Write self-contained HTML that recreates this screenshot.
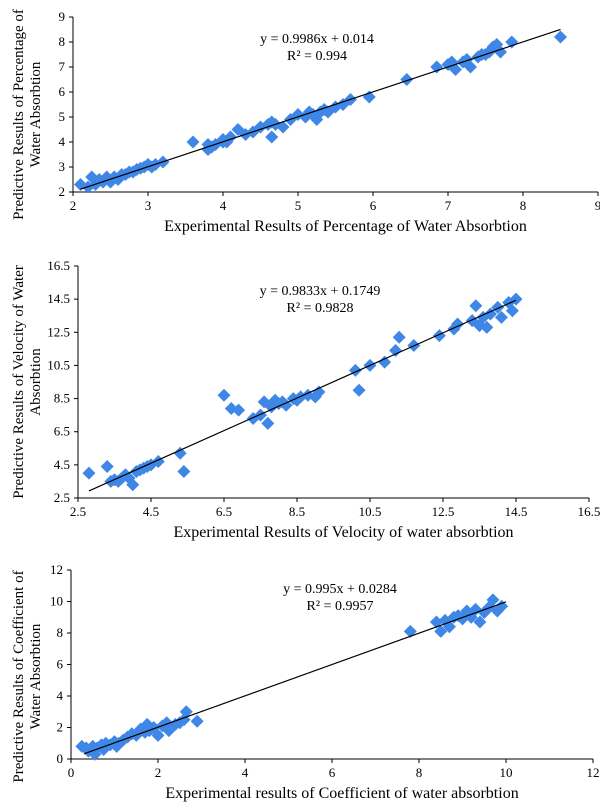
<!DOCTYPE html>
<html><head><meta charset="utf-8"><style>
body{margin:0;background:#fff;width:600px;height:802px;overflow:hidden}
svg{display:block;font-family:"Liberation Serif",serif}
</style></head><body>
<svg id="c" width="600" height="802" viewBox="0 0 600 802"></svg>
<script>
// Chart 1 data
const c1X=[2.1,2.2,2.25,2.3,2.35,2.4,2.45,2.5,2.55,2.6,2.65,2.7,2.75,2.8,2.85,2.9,2.95,3.0,3.05,3.1,3.2,3.6,3.8,3.8,3.85,3.9,4.0,4.0,4.05,4.1,4.2,4.3,4.4,4.5,4.6,4.65,4.65,4.7,4.8,4.9,5.0,5.1,5.15,5.2,5.25,5.3,5.35,5.4,5.5,5.6,5.7,5.95,6.45,6.85,7.0,7.05,7.1,7.2,7.25,7.3,7.4,7.45,7.5,7.55,7.6,7.65,7.7,7.85,8.5];
const c1Y=[2.3,2.2,2.6,2.3,2.5,2.4,2.6,2.4,2.6,2.5,2.7,2.7,2.8,2.8,2.9,2.95,3.0,3.1,3.0,3.1,3.2,4.0,3.7,3.9,3.8,3.9,4.0,4.1,4.0,4.2,4.5,4.3,4.4,4.6,4.7,4.2,4.8,4.7,4.6,4.9,5.1,5.0,5.2,5.1,4.9,5.2,5.3,5.2,5.4,5.5,5.7,5.8,6.5,7.0,7.1,7.2,6.9,7.2,7.3,7.0,7.4,7.5,7.5,7.6,7.8,7.9,7.6,8.0,8.2];
const c1Ticks=[2,3,4,5,6,7,8,9];
// Chart 2 data
const c2X=[2.8,3.3,3.4,3.5,3.6,3.7,3.8,3.9,4.0,4.1,4.2,4.3,4.4,4.5,4.7,5.3,5.4,6.5,6.7,6.9,7.3,7.5,7.6,7.7,7.8,7.9,8.0,8.1,8.2,8.4,8.5,8.6,8.8,9.0,9.1,10.1,10.2,10.5,10.9,11.2,11.3,11.7,12.4,12.8,12.9,13.3,13.4,13.5,13.6,13.7,13.8,14.0,14.1,14.3,14.4,14.5];
const c2Y=[4.0,4.4,3.5,3.6,3.5,3.7,3.9,3.7,3.3,4.1,4.2,4.3,4.4,4.5,4.7,5.2,4.1,8.7,7.9,7.8,7.3,7.5,8.3,7.0,8.0,8.4,8.2,8.3,8.1,8.5,8.4,8.6,8.7,8.6,8.9,10.2,9.0,10.5,10.7,11.4,12.2,11.7,12.3,12.7,13.0,13.2,14.1,12.9,13.4,12.8,13.6,14.0,13.4,14.3,13.8,14.5];
const c2Ticks=[2.5,4.5,6.5,8.5,10.5,12.5,14.5,16.5];
// Chart 3 data
const c3X=[0.25,0.35,0.4,0.5,0.55,0.6,0.7,0.75,0.8,0.9,1.0,1.05,1.1,1.2,1.3,1.4,1.5,1.6,1.7,1.75,1.8,1.9,2.0,2.1,2.2,2.25,2.4,2.5,2.6,2.65,2.9,7.8,8.4,8.5,8.6,8.7,8.8,8.9,9.0,9.1,9.2,9.3,9.4,9.5,9.6,9.7,9.8,9.9];
const c3Y=[0.8,0.7,0.5,0.8,0.3,0.7,0.9,0.6,1.0,0.9,1.1,0.8,1.0,1.2,1.4,1.6,1.5,1.9,1.7,2.2,1.8,2.0,1.5,2.1,2.3,1.8,2.2,2.3,2.5,3.0,2.4,8.1,8.7,8.1,8.8,8.4,9.0,9.1,8.9,9.4,9.0,9.5,8.7,9.3,9.6,10.1,9.4,9.7];
const c3Ticks=[0,2,4,6,8,10,12];

const NS="http://www.w3.org/2000/svg";
const svg=document.getElementById('c');
function mk(tag,attrs,parent,text){const e=document.createElementNS(NS,tag);for(const k in attrs)e.setAttribute(k,attrs[k]);if(text!==undefined)e.textContent=text;(parent||svg).appendChild(e);return e;}

function chart(cfg){
  const g=mk('g',{});
  
  
  const sx=v=>cfg.x0+(v-cfg.xmin)/(cfg.xmax-cfg.xmin)*(cfg.x1-cfg.x0);
  const sy=v=>cfg.y0-(v-cfg.ymin)/(cfg.ymax-cfg.ymin)*(cfg.y0-cfg.y1);
  const ax=mk('line',{x1:cfg.x0,y1:cfg.y0,x2:cfg.x1,y2:cfg.y0,stroke:'#000','stroke-width':1},g);
  
  const ay=mk('line',{x1:cfg.x0,y1:cfg.y0,x2:cfg.x0,y2:cfg.y1,stroke:'#000','stroke-width':1},g);
  
  cfg.ticks.forEach(t=>{
    const x=sx(t);
    mk('line',{x1:x,y1:cfg.y0,x2:x,y2:cfg.y0+4,stroke:'#000'},g);
    const tl=mk('text',{x:x,y:cfg.y0+18,'font-size':13,'text-anchor':'middle'},g,String(t));
    
  });
  cfg.yticks.forEach(t=>{
    const y=sy(t);
    mk('line',{x1:cfg.x0-4,y1:y,x2:cfg.x0,y2:y,stroke:'#000'},g);
    const tl=mk('text',{x:cfg.x0-8,y:y+4,'font-size':13,'text-anchor':'end'},g,String(t));
    
  });
  cfg.xs.forEach((v,i)=>{
    const cx=sx(v),cy=sy(cfg.ys[i]),r=6.5;
    const p=mk('polygon',{points:`${cx},${cy-r} ${cx+r},${cy} ${cx},${cy+r} ${cx-r},${cy}`,fill:'#3f87e6'},g);
    
  });
  const tl=mk('line',{x1:sx(cfg.lx0),y1:sy(cfg.m*cfg.lx0+cfg.b),x2:sx(cfg.lx1),y2:sy(cfg.m*cfg.lx1+cfg.b),stroke:'#000','stroke-width':1.2},g);
  
  const e1=mk('text',{x:cfg.ex,y:cfg.ey,'font-size':14,'text-anchor':'middle'},g,cfg.eq);
  
  const e2=mk('text',{x:cfg.ex,y:cfg.ey+17,'font-size':14,'text-anchor':'middle'},g,cfg.r2);
  
  const xt=mk('text',{x:(cfg.x0+cfg.x1)/2+10,y:cfg.y0+39,'font-size':16,'text-anchor':'middle'},g,cfg.xtitle);
  
  const cy=(cfg.y0+cfg.y1)/2+cfg.yshift;
  const yt=mk('text',{transform:`translate(23,${cy}) rotate(-90)`,'font-size':15,'text-anchor':'middle'},g);
  
  mk('tspan',{x:0,dy:0},yt,cfg.ytitle[0]);
  mk('tspan',{x:0,dy:17},yt,cfg.ytitle[1]);
}

chart({name:'chart-percentage',xs:c1X,ys:c1Y,ticks:c1Ticks,yticks:c1Ticks,xmin:2,xmax:9,ymin:2,ymax:9,
 x0:73,x1:598,y0:192,y1:17,lx0:2.1,lx1:8.5,m:0.9986,b:0.014,ex:317,ey:43,eq:'y = 0.9986x + 0.014',r2:'R² = 0.994',yshift:10,
 xtitle:'Experimental Results of Percentage of Water Absorbtion',ytitle:['Predictive Results of Percentage of','Water Absorbtion']});
chart({name:'chart-velocity',xs:c2X,ys:c2Y,ticks:c2Ticks,yticks:c2Ticks,xmin:2.5,xmax:16.5,ymin:2.5,ymax:16.5,
 x0:78,x1:589,y0:498,y1:266,lx0:2.8,lx1:14.5,m:0.9833,b:0.1749,ex:320,ey:295,eq:'y = 0.9833x + 0.1749',r2:'R² = 0.9828',yshift:0,
 xtitle:'Experimental Results of Velocity of water absorbtion',ytitle:['Predictive Results of  Velocity of Water','Absorbtion']});
chart({name:'chart-coefficient',xs:c3X,ys:c3Y,ticks:c3Ticks,yticks:c3Ticks,xmin:0,xmax:12,ymin:0,ymax:12,
 x0:71,x1:593,y0:759,y1:570,lx0:0.3,lx1:10,m:0.995,b:0.0284,ex:340,ey:593,eq:'y = 0.995x + 0.0284',r2:'R² = 0.9957',yshift:12,
 xtitle:'Experimental results of  Coefficient of water absorbtion',ytitle:['Predictive Results of  Coefficient of','Water Absorbtion']});
</script>
</body></html>
